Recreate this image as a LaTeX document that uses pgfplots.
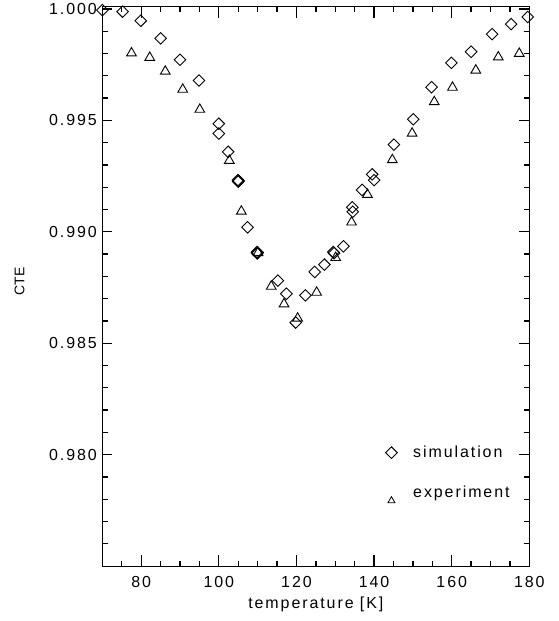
\documentclass[border=0pt]{standalone}
\usepackage{fontspec}
\setmainfont{Liberation Sans}[LetterSpace=12]
\newfontfamily\plainfont{Liberation Sans}
\usepackage{pgfplots}
\pgfplotsset{compat=1.18}
\pgfplotsset{every tick/.style={black, line width=1.3pt}}
\begin{document}
\begin{tikzpicture}
\begin{axis}[
  scale only axis, width=427.5pt, height=560pt,
  xmin=70, xmax=180, ymin=0.975, ymax=1.0001,
  xtick={80,100,120,140,160,180},
  ytick={0.980,0.985,0.990,0.995,1.000},
  scaled y ticks=false,
  tick align=inside,
  major tick length=10pt,
  clip mode=individual,
  axis line style={line width=1pt},
  /pgf/number format/assume math mode=true,
  tick label style={font=\fontsize{16}{19}\selectfont},
  y tick label style={/pgf/number format/fixed, /pgf/number format/fixed zerofill, /pgf/number format/precision=3, xshift=-2pt},
  x tick label style={yshift=-7pt},
  xlabel={temperature [K]},
  ylabel={\plainfont\fontsize{14}{16}\selectfont CTE},
  xlabel style={font=\fontsize{16}{19}\selectfont, at={(rel axis cs:0.5,0)}, anchor=center, yshift=-38pt},
  ylabel style={at={(rel axis cs:0,0.509)}, anchor=center, yshift=83pt},
  legend style={draw=none, fill=none, at={(rel axis cs:0.656,0.222)}, anchor=north west, row sep=23pt,
    column sep=9pt, font=\fontsize{16}{19}\selectfont, nodes={inner xsep=7pt}},
  legend cell align=left,
]
% tick marks along the frame
\pgfplotsinvokeforeach{70,75,85,90,95,105,110,115,125,130,135,145,150,155,165,170,175}{
  \draw[line width=1.3pt] (axis cs:#1,0.975) -- ++(0pt,5.5pt);
  \draw[line width=1.3pt] (axis cs:#1,1.0001) -- ++(0pt,-5.5pt);
}
\pgfplotsinvokeforeach{80,100,120,140,160,180}{
  \draw[line width=1.3pt] (axis cs:#1,0.975) -- ++(0pt,11pt);
  \draw[line width=1.3pt] (axis cs:#1,1.0001) -- ++(0pt,-11pt);
}
\pgfplotsinvokeforeach{0.976,0.977,0.978,0.979,0.981,0.982,0.983,0.984,0.986,0.987,0.988,0.989,0.991,0.992,0.993,0.994,0.996,0.997,0.998,0.999}{
  \draw[line width=1.3pt] (axis cs:70,#1) -- ++(5.5pt,0pt);
  \draw[line width=1.3pt] (axis cs:180,#1) -- ++(-5.5pt,0pt);
}
\pgfplotsinvokeforeach{0.980,0.985,0.990,0.995,1.000}{
  \draw[line width=1.3pt] (axis cs:70,#1) -- ++(10pt,0pt);
  \draw[line width=1.3pt] (axis cs:180,#1) -- ++(-10pt,0pt);
}
\addplot[only marks, mark=square, mark size=4.1pt, line width=0.9pt, mark options={rotate=45}] coordinates {
(70.0,0.99995) (75.2,0.99988) (79.9,0.99947) (85.0,0.99868) (90.0,0.99772) (94.9,0.99679)
(100.0,0.99485) (100.0,0.99441) (102.4,0.99359) (104.9,0.99232) (105.0,0.99225) (105.1,0.99229)
(107.4,0.99020) (109.8,0.98909) (109.9,0.98903) (110.0,0.98907) (115.2,0.98781) (117.4,0.98722)
(119.8,0.98593) (122.3,0.98715) (124.7,0.98820) (127.2,0.98853) (129.5,0.98909) (129.7,0.98904)
(132.1,0.98935) (134.4,0.99110) (134.5,0.99090) (136.9,0.99188) (139.5,0.99258) (140.0,0.99232)
(145.1,0.99391) (150.1,0.99505) (154.8,0.99649) (159.9,0.99758) (165.0,0.99808) (170.4,0.99887)
(175.3,0.99932) (179.6,0.99964)
};
\addlegendentry{simulation}
\addplot[only marks, mark=triangle, mark size=5.6pt, line width=0.9pt, forget plot] coordinates {
(77.5,0.99802) (82.2,0.99782) (86.2,0.99720) (90.7,0.99639) (95.1,0.99549) (102.7,0.99320)
(105.8,0.99092) (110.1,0.98906) (113.5,0.98755) (116.8,0.98676) (120.3,0.98612) (125.2,0.98728)
(130.1,0.98884) (134.2,0.99043) (138.3,0.99167) (144.7,0.99323) (149.8,0.99442) (155.5,0.99583)
(160.2,0.99648) (166.2,0.99725) (172.0,0.99784) (177.4,0.99800)
};
\addlegendimage{only marks, mark=triangle, mark size=4pt, line width=0.8pt, mark options={yshift=-8pt}}
\addlegendentry{experiment}
\end{axis}
\path (current axis.south west) ++(-102.5pt,-55pt) rectangle ++(559pt,621pt);
\end{tikzpicture}
\end{document}
